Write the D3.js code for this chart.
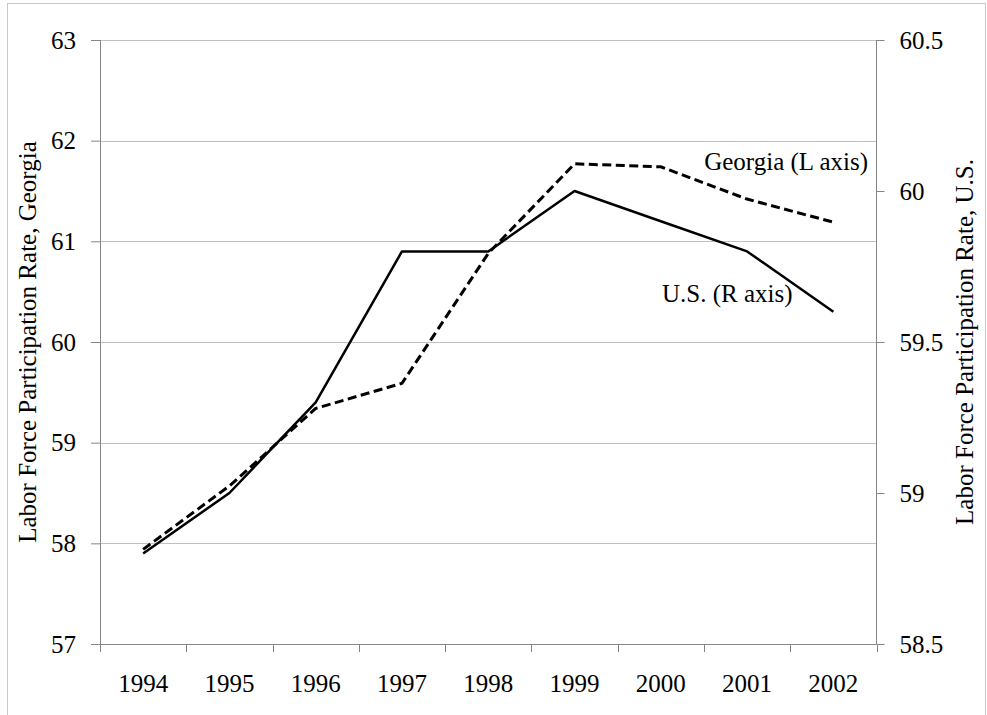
<!DOCTYPE html>
<html>
<head>
<meta charset="utf-8">
<script src="https://cdn.jsdelivr.net/npm/d3@7"></script>
<style>
  body { margin: 0; background: #fff; }
  svg text { font-family: "Liberation Serif", "DejaVu Serif", "Times New Roman", Times, serif !important; fill: #000; }
</style>
</head>
<body>
<svg id="chart" width="987" height="715"></svg>
<script>
// data
const years = ["1994", "1995", "1996", "1997", "1998", "1999", "2000", "2001", "2002"];
const georgia = [57.94, 58.57, 59.34, 59.59, 60.88, 61.77, 61.74, 61.42, 61.19]; // left axis
const us = [58.8, 59.0, 59.3, 59.8, 59.8, 60.0, 59.9, 59.8, 59.6];              // right axis
const leftTicks = [57, 58, 59, 60, 61, 62, 63];
const rightTicks = [58.5, 59, 59.5, 60, 60.5];

const svg = d3.select("#chart");
const margin = { left: 100, right: 876.5, top: 40, bottom: 644 };
const fontSize = 25;
const serif = "'Liberation Serif', 'DejaVu Serif', 'Times New Roman', Times, serif";
const axisColor = "#868686";

// outer chart frame
svg.append("rect")
  .attr("x", 7.5).attr("y", 3.5)
  .attr("width", 978).attr("height", 730)
  .attr("fill", "none")
  .attr("stroke", "#c8c8c8");

const x = d3.scaleBand().domain(years).range([margin.left, margin.right]).padding(0);
const yL = d3.scaleLinear().domain([57, 63]).range([margin.bottom, margin.top]);
const yR = d3.scaleLinear().domain([58.5, 60.5]).range([margin.bottom, margin.top]);
const cx = d => x(d) + x.bandwidth() / 2;

// gridlines
svg.append("g")
  .selectAll("line")
  .data(leftTicks.slice(1))
  .join("line")
  .attr("x1", margin.left).attr("x2", margin.right)
  .attr("y1", d => Math.round(yL(d)) + 0.5).attr("y2", d => Math.round(yL(d)) + 0.5)
  .attr("stroke", "#c0c0c0");

// left axis
const gL = svg.append("g")
  .attr("transform", `translate(${margin.left},0)`)
  .call(d3.axisLeft(yL).tickValues(leftTicks).tickSize(9).tickPadding(15).tickFormat(d3.format("d")));

// right axis
const gR = svg.append("g")
  .attr("transform", `translate(${margin.right},0)`)
  .call(d3.axisRight(yR).tickValues(rightTicks).tickSize(8).tickPadding(15).tickFormat(d => d % 1 === 0 ? d3.format("d")(d) : d3.format(".1f")(d)));

[gL, gR].forEach(g => {
  g.attr("font-family", serif).attr("font-size", fontSize);
  g.select(".domain").remove();
  g.selectAll(".tick line").attr("stroke", axisColor);
  g.selectAll(".tick text").attr("fill", "#000");
});
svg.append("line")
  .attr("x1", margin.left + 0.5).attr("x2", margin.left + 0.5)
  .attr("y1", margin.top).attr("y2", margin.bottom)
  .attr("stroke", axisColor);
svg.append("line")
  .attr("x1", margin.right).attr("x2", margin.right)
  .attr("y1", margin.top).attr("y2", margin.bottom)
  .attr("stroke", axisColor);

// bottom axis: line, boundary ticks, centred labels
const gX = svg.append("g").attr("font-family", serif).attr("font-size", fontSize);
gX.append("line")
  .attr("x1", margin.left).attr("x2", margin.right)
  .attr("y1", margin.bottom + 0.5).attr("y2", margin.bottom + 0.5)
  .attr("stroke", axisColor);
gX.selectAll("line.tk")
  .data(years.map(d => x(d)).concat([margin.right]))
  .join("line")
  .attr("class", "tk")
  .attr("x1", d => Math.round(d) + 0.5).attr("x2", d => Math.round(d) + 0.5)
  .attr("y1", margin.bottom).attr("y2", margin.bottom + 8)
  .attr("stroke", axisColor);
gX.selectAll("text")
  .data(years)
  .join("text")
  .attr("x", cx)
  .attr("y", 692)
  .attr("text-anchor", "middle")
  .text(d => d);

// axis titles
const titles = svg.append("g").attr("font-family", serif).attr("font-size", fontSize);
titles.append("text")
  .attr("transform", `translate(36,${(margin.top + margin.bottom) / 2}) rotate(-90)`)
  .attr("text-anchor", "middle")
  .text("Labor Force Participation Rate, Georgia");
titles.append("text")
  .attr("transform", `translate(973,${(margin.top + margin.bottom) / 2}) rotate(-90)`)
  .attr("text-anchor", "middle")
  .text("Labor Force Participation Rate, U.S.");

// series
const lineL = d3.line().x((d, i) => cx(years[i])).y(d => yL(d));
const lineR = d3.line().x((d, i) => cx(years[i])).y(d => yR(d));

svg.append("path")
  .datum(us)
  .attr("d", lineR)
  .attr("fill", "none")
  .attr("stroke", "#000")
  .attr("stroke-width", 2.5)
  .attr("stroke-linejoin", "round");

svg.append("path")
  .datum(georgia)
  .attr("d", lineL)
  .attr("fill", "none")
  .attr("stroke", "#000")
  .attr("stroke-width", 3)
  .attr("stroke-dasharray", "9,4.5");

// series labels
titles.append("text")
  .attr("x", 868).attr("y", 170)
  .attr("text-anchor", "end")
  .text("Georgia (L axis)");
titles.append("text")
  .attr("x", 662).attr("y", 302)
  .text("U.S. (R axis)");
</script>
</body>
</html>
